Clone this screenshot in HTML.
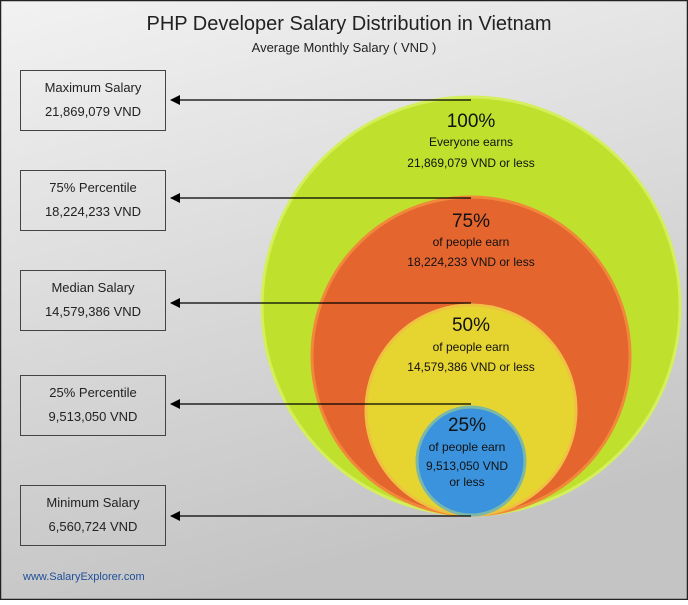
<!DOCTYPE html>
<html><head><meta charset="utf-8"><style>
html,body{margin:0;padding:0}
body{width:688px;height:600px;overflow:hidden}
svg text{font-family:"Liberation Sans",sans-serif}
</style></head><body>
<svg width="688" height="600" xmlns="http://www.w3.org/2000/svg">
<defs>
<linearGradient id="bg" x1="0" y1="0" x2="0.3" y2="1">
<stop offset="0" stop-color="#f2f2f2"/><stop offset="1" stop-color="#c4c4c4"/>
</linearGradient>
<marker id="ar" markerWidth="10" markerHeight="10" refX="1" refY="5" orient="auto" markerUnits="userSpaceOnUse">
<path d="M10,0 L0,5 L10,10 z" fill="#000"/></marker>
</defs>
<rect x="0" y="0" width="688" height="600" fill="url(#bg)"/>
<rect x="0.5" y="0.5" width="687" height="599" fill="none" stroke="#222" stroke-width="1.5"/>
<text x="349" y="30" font-size="20" text-anchor="middle" fill="#222">PHP Developer Salary Distribution in Vietnam</text>
<text x="344" y="52" font-size="13" text-anchor="middle" fill="#222">Average Monthly Salary ( VND )</text>

<circle cx="471" cy="306" r="209" fill="#bfe12e" stroke="#d4ee5c" stroke-width="3"/>
<circle cx="471" cy="356" r="159" fill="#e4652e" stroke="#f08a3a" stroke-width="3"/>
<circle cx="471" cy="410" r="105" fill="#e6d431" stroke="#f0c040" stroke-width="3"/>
<circle cx="471" cy="461" r="54" fill="#3a93dc" stroke="#7cb8a8" stroke-width="3"/>

<g fill="#111" text-anchor="middle">
<text x="471" y="127" font-size="19">100%</text>
<text x="471" y="146" font-size="12">Everyone earns</text>
<text x="471" y="167" font-size="12">21,869,079 VND or less</text>
<text x="471" y="227" font-size="19">75%</text>
<text x="471" y="246" font-size="12">of people earn</text>
<text x="471" y="266" font-size="12">18,224,233 VND or less</text>
<text x="471" y="331" font-size="19">50%</text>
<text x="471" y="351" font-size="12">of people earn</text>
<text x="471" y="371" font-size="12">14,579,386 VND or less</text>
<text x="467" y="431" font-size="19">25%</text>
<text x="467" y="451" font-size="12">of people earn</text>
<text x="467" y="470" font-size="12">9,513,050 VND</text>
<text x="467" y="486" font-size="12">or less</text>
</g>

<g stroke="#000" stroke-width="1.2" marker-start="url(#ar)">
<line x1="171" y1="100" x2="471" y2="100"/>
<line x1="171" y1="198" x2="471" y2="198"/>
<line x1="171" y1="303" x2="471" y2="303"/>
<line x1="171" y1="404" x2="471" y2="404"/>
<line x1="171" y1="516" x2="471" y2="516"/>
</g>

<g fill="none" stroke="#444" stroke-width="1">
<rect x="20.5" y="70.5" width="145" height="60"/>
<rect x="20.5" y="170.5" width="145" height="60"/>
<rect x="20.5" y="270.5" width="145" height="60"/>
<rect x="20.5" y="375.5" width="145" height="60"/>
<rect x="20.5" y="485.5" width="145" height="60"/>
</g>
<g fill="#222" font-size="13" text-anchor="middle">
<text x="93" y="92">Maximum Salary</text><text x="93" y="116">21,869,079 VND</text>
<text x="93" y="192">75% Percentile</text><text x="93" y="216">18,224,233 VND</text>
<text x="93" y="292">Median Salary</text><text x="93" y="316">14,579,386 VND</text>
<text x="93" y="397">25% Percentile</text><text x="93" y="421">9,513,050 VND</text>
<text x="93" y="507">Minimum Salary</text><text x="93" y="531">6,560,724 VND</text>
</g>
<text x="23" y="580" font-size="11" fill="#1f4f9a">www.SalaryExplorer.com</text>
</svg>
</body></html>
